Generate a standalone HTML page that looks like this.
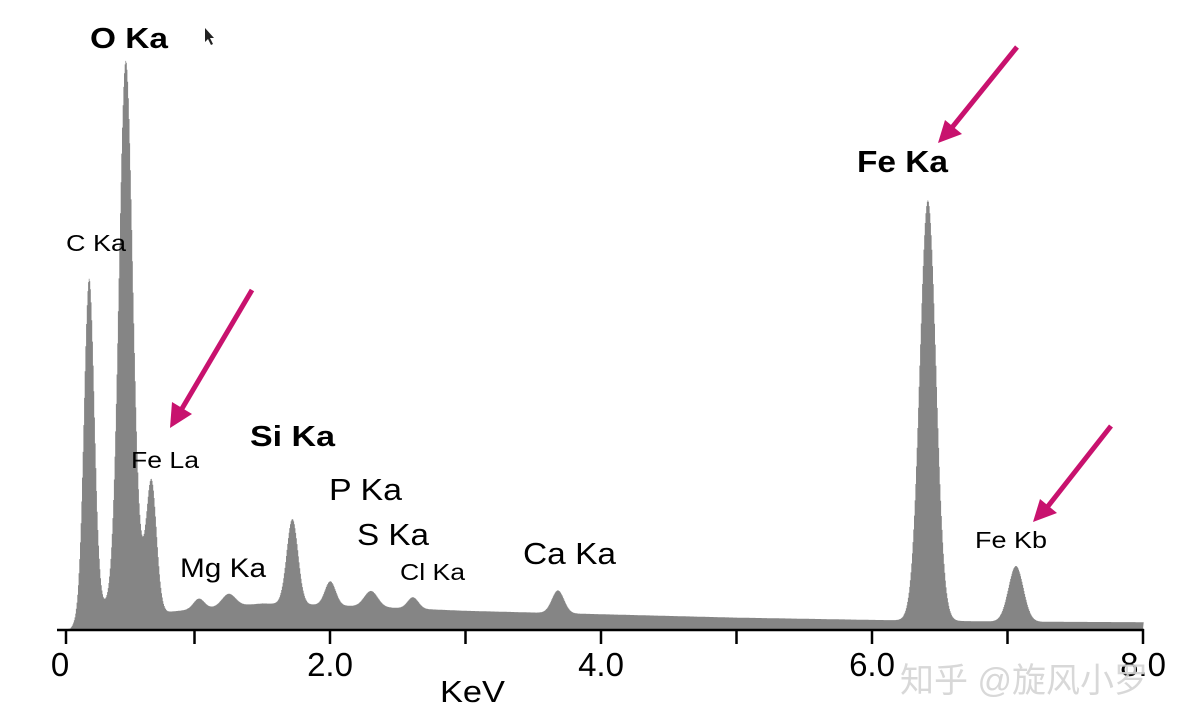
<!DOCTYPE html>
<html><head><meta charset="utf-8"><style>
html,body{margin:0;padding:0;background:#fff;}
svg{display:block;font-family:"Liberation Sans","Noto Sans CJK SC",sans-serif;}
</style></head><body>
<svg id="chart" width="1183" height="727" viewBox="0 0 1183 727">
<g id="spec"></g>
<g id="axis"></g>
<g fill="#000" lengthAdjust="spacingAndGlyphs">
<text x="90" y="48" font-size="29" font-weight="bold" textLength="78" lengthAdjust="spacingAndGlyphs">O Ka</text>
<text x="66" y="251" font-size="23" textLength="60" lengthAdjust="spacingAndGlyphs">C Ka</text>
<text x="131" y="468" font-size="23" textLength="68" lengthAdjust="spacingAndGlyphs">Fe La</text>
<text x="250" y="446" font-size="29" font-weight="bold" textLength="85" lengthAdjust="spacingAndGlyphs">Si Ka</text>
<text x="329" y="500" font-size="31" textLength="73" lengthAdjust="spacingAndGlyphs">P Ka</text>
<text x="357" y="545" font-size="31" textLength="72" lengthAdjust="spacingAndGlyphs">S Ka</text>
<text x="180" y="577" font-size="27" textLength="86" lengthAdjust="spacingAndGlyphs">Mg Ka</text>
<text x="400" y="580" font-size="23" textLength="65" lengthAdjust="spacingAndGlyphs">Cl Ka</text>
<text x="523" y="564" font-size="31" textLength="93" lengthAdjust="spacingAndGlyphs">Ca Ka</text>
<text x="857" y="172" font-size="31" font-weight="bold" textLength="91" lengthAdjust="spacingAndGlyphs">Fe Ka</text>
<text x="975" y="548" font-size="23" textLength="72" lengthAdjust="spacingAndGlyphs">Fe Kb</text>
</g>
<g stroke="#c8126e" stroke-width="5" fill="#c8126e">
<line x1="252" y1="290" x2="180" y2="412"/>
<polygon stroke="none" points="170,428 172,402 192,414"/>
<line x1="1017" y1="47" x2="950" y2="130"/>
<polygon stroke="none" points="938,143 945,120 962,134"/>
<line x1="1111" y1="426" x2="1045" y2="510"/>
<polygon stroke="none" points="1033,522 1040,499 1057,513"/>
</g>
<polygon points="205,28 205,42 208,39 211,45 213,44 210,38 214,38" fill="#222"/>
<text x="440" y="702" font-size="31" textLength="65" lengthAdjust="spacingAndGlyphs">KeV</text>
<text x="900" y="692" font-size="34" fill="#d4d4d4" opacity="0.9">知乎 @旋风小罗</text>
</svg>
<script>
const peakNames=["C Ka","O Ka","O tail","Fe La","Mg Ka","Al","Si Ka","P Ka","S Ka","Cl Ka","Ca Ka","Fe Ka","Fe Kb"];
const peakEnergy=[0.22,0.49,0.58,0.68,1.03,1.25,1.72,2.0,2.30,2.61,3.68,6.41,7.06];
const peakCounts=[590,955,45,225,18,22,150,42,28,20,40,740,98];
const peakSigma=[0.038,0.05,0.05,0.038,0.04,0.05,0.042,0.04,0.05,0.04,0.045,0.06,0.055];
const bgEnergy=[0.08,0.15,0.3,0.8,1.0,1.5,2.0,3.0,4.0,5.0,6.0,7.0,8.0];
const bgCounts=[0,15,40,30,35,45,42,32,26,20,16,13,12];
const tickValues=[0,1,2,3,4,5,6,7,8];
const tickLabels=["0","","2.0","","4.0","","6.0","","8.0"];
const NS="http://www.w3.org/2000/svg";
const x0=59,kx=135.5,y0=629,ky=0.568;
function xs(e){return x0+kx*e;}
function ys(c){return y0-c*ky;}
function bg(e){
  if(e<=bgEnergy[0])return 0;
  for(let i=1;i<bgEnergy.length;i++){if(e<=bgEnergy[i]){const t=(e-bgEnergy[i-1])/(bgEnergy[i]-bgEnergy[i-1]);return bgCounts[i-1]+t*(bgCounts[i]-bgCounts[i-1]);}}
  return bgCounts[bgCounts.length-1];
}
function counts(e){let c=bg(e);for(let i=0;i<peakEnergy.length;i++){const d=(e-peakEnergy[i])/peakSigma[i];c+=peakCounts[i]*Math.exp(-0.5*d*d);}return c;}
const spec=document.getElementById('spec');
let d="M"+xs(0.05)+","+y0;
const step=0.005;
for(let e=0.05;e<=8.0001;e+=step){const y=ys(counts(e));d+=" L"+xs(e).toFixed(1)+","+y.toFixed(1)+" L"+xs(e+step).toFixed(1)+","+y.toFixed(1);}
d+=" L"+xs(8.0)+","+y0+" Z";
const p=document.createElementNS(NS,'path');
p.setAttribute('d',d);p.setAttribute('fill','#858585');


spec.appendChild(p);
const ax=document.getElementById('axis');
const ln=document.createElementNS(NS,'line');
ln.setAttribute('x1',57);ln.setAttribute('x2',xs(8)+1);ln.setAttribute('y1',y0+1);ln.setAttribute('y2',y0+1);
ln.setAttribute('stroke','#000');ln.setAttribute('stroke-width','2.5');


ax.appendChild(ln);
tickValues.forEach((v,i)=>{
  const tx=v===0?66:xs(v);
  const t=document.createElementNS(NS,'line');
  t.setAttribute('x1',tx);t.setAttribute('x2',tx);t.setAttribute('y1',y0);t.setAttribute('y2',y0+15);
  t.setAttribute('stroke','#000');t.setAttribute('stroke-width','2.5');
  
  
  ax.appendChild(t);
  if(tickLabels[i]){
    const l=document.createElementNS(NS,'text');
    l.setAttribute('x',v===0?60:tx);l.setAttribute('y',676);l.setAttribute('font-size','33');l.setAttribute('text-anchor','middle');
    l.textContent=tickLabels[i];
    
    
    ax.appendChild(l);
  }
});
</script>
</body></html>
